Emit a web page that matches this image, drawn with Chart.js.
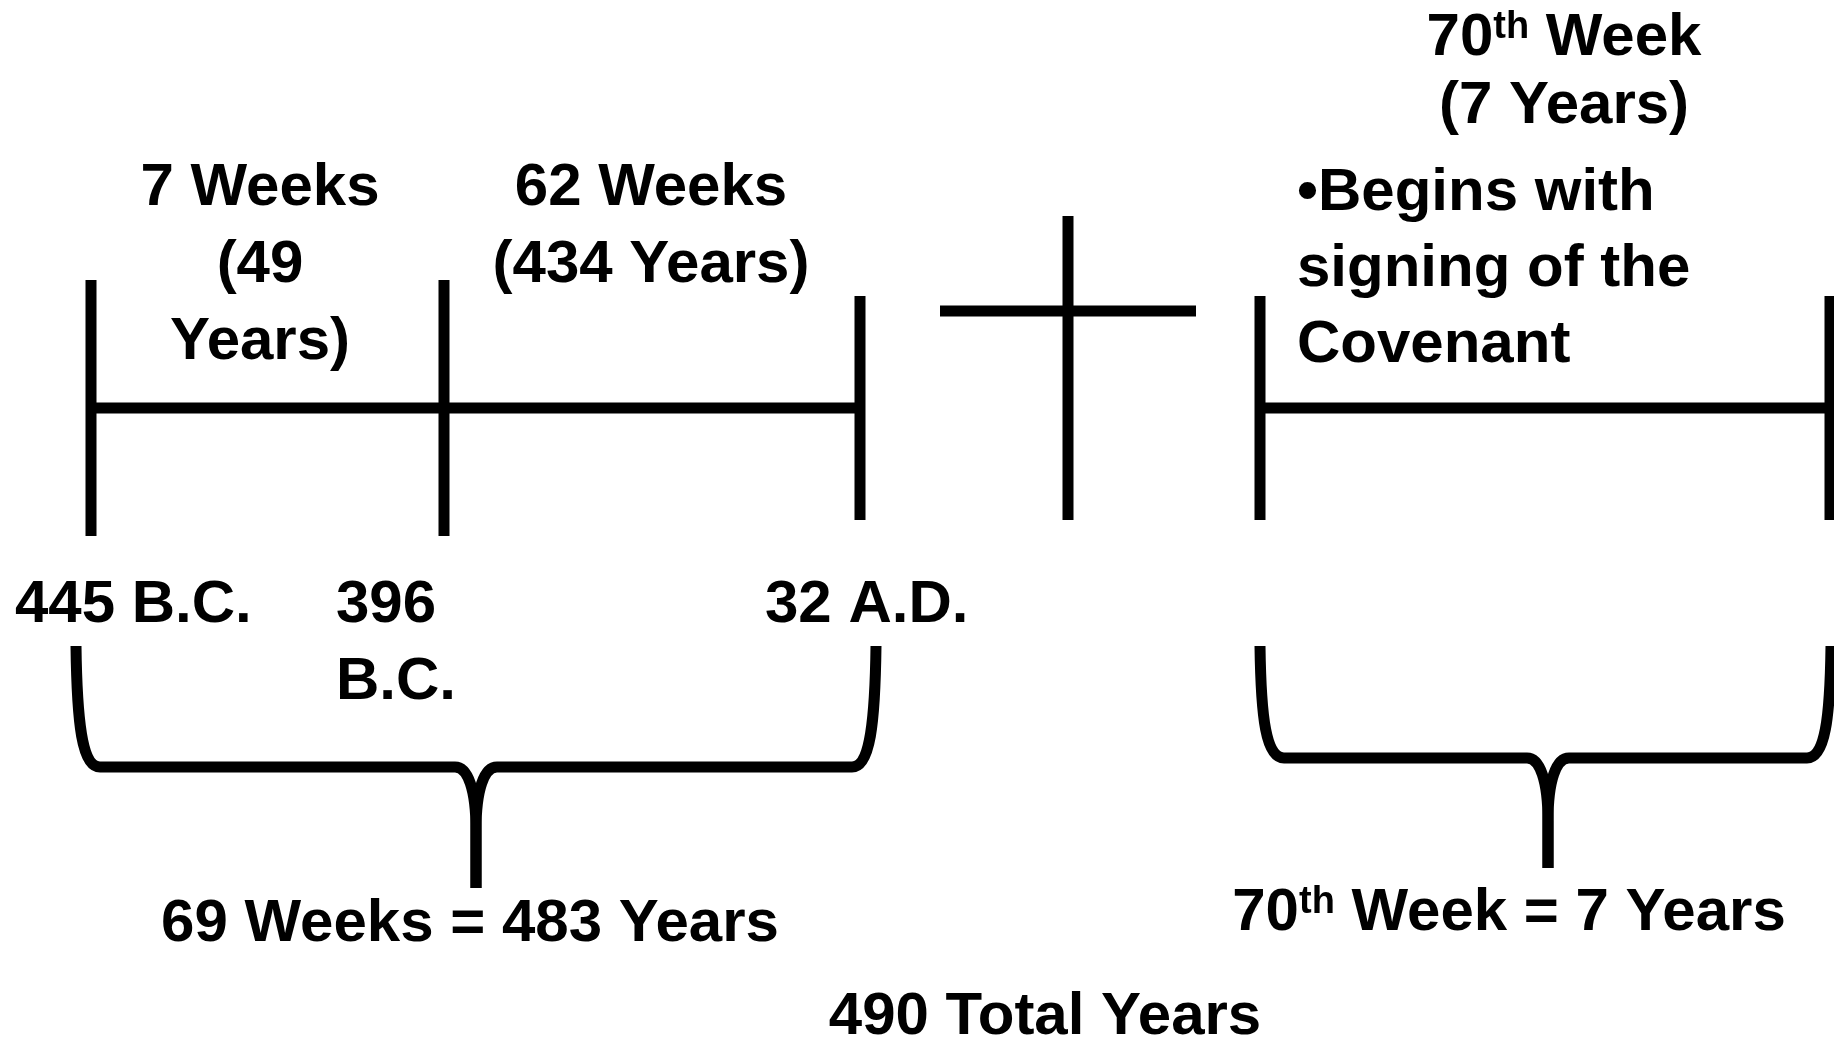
<!DOCTYPE html>
<html>
<head>
<meta charset="utf-8">
<script src="https://cdn.jsdelivr.net/npm/chart.js@4.4.1/dist/chart.umd.min.js"></script>
<style>
  html, body { margin: 0; padding: 0; background: #ffffff; overflow: hidden; }
  #wrap { width: 1834px; height: 1038px; }
</style>
</head>
<body>
<div id="wrap"><canvas id="chart" width="1834" height="1038"></canvas></div>
<script>
// ---------- Diagram content (diagram units: x 0..1834, y 0..1038 measured downward) ----------
// Timeline segments [x1, y1, x2, y2]
const firstTimeline = [
  [91, 280, 91, 536],     // 445 B.C. tick
  [444, 280, 444, 536],   // 396 B.C. tick
  [860, 296, 860, 520],   // 32 A.D. tick
  [91, 408, 860, 408]     // 69 weeks span
];
const crossMark = [
  [1068, 216, 1068, 520],
  [940, 311, 1196, 311]
];
const seventiethTimeline = [
  [1260, 296, 1260, 520],
  [1830, 296, 1830, 520],
  [1260, 408, 1834, 408]
];

// Period labels above the first timeline
const periodLines = [["7 Weeks", "(49", "Years)"], ["62 Weeks", "(434 Years)"]];
const periodX = [260, 651];
const periodY = [205, 205];

// 70th week heading and note
const weekHeading = ["70{th} Week", "(7 Years)"];
const weekHeadingX = 1564, weekHeadingY = 55;
const covenantNote = ["\u2022Begins with", "signing of the", "Covenant"];
const covenantX = 1297, covenantY = 210;

// Date labels under the ticks
const dateLines = [["445 B.C."], ["396", "B.C."], ["32 A.D."]];
const dateX = [15, 336, 765];
const dateY = [622, 622, 622];

// Braces [left, right, top, bar, tipX, tipY]
const braces = [
  [76, 876, 646, 767, 476, 888],
  [1260, 1831, 646, 758, 1548, 868]
];

// Summary labels
const summaryText = ["69 Weeks = 483 Years", "70{th} Week = 7 Years", "490 Total Years"];
const summaryX = [470, 1509, 1045];
const summaryY = [941, 930, 1034];

// ---------- Build datasets ----------
function segDataset(s) {
  return {
    type: 'scatter',
    data: [{x: s[0], y: s[1]}, {x: s[2], y: s[3]}],
    showLine: true,
    borderColor: '#000000',
    backgroundColor: '#000000',
    borderWidth: 11,
    borderCapStyle: 'butt',
    pointRadius: 0,
    pointHoverRadius: 0,
    fill: false,
    clip: false
  };
}
const datasets = [...firstTimeline, ...crossMark, ...seventiethTimeline].map(segDataset);

const FONT = '"Liberation Sans", Arial, Helvetica, sans-serif';
const MAIN_SIZE = 60;
const SUP_SIZE = 38;

function parts(text) {
  const out = [];
  const re = /\{(.*?)\}/g;
  let last = 0, m;
  while ((m = re.exec(text)) !== null) {
    if (m.index > last) out.push({t: text.slice(last, m.index), sup: false});
    out.push({t: m[1], sup: true});
    last = re.lastIndex;
  }
  if (last < text.length) out.push({t: text.slice(last), sup: false});
  return out;
}

function drawRich(ctx, text, px, py, align) {
  const ps = parts(text);
  let w = 0;
  ps.forEach(p => {
    ctx.font = 'bold ' + (p.sup ? SUP_SIZE : MAIN_SIZE) + 'px ' + FONT;
    p.w = ctx.measureText(p.t).width;
    w += p.w;
  });
  let x = align === 'center' ? px - w / 2 : px;
  ps.forEach(p => {
    ctx.font = 'bold ' + (p.sup ? SUP_SIZE : MAIN_SIZE) + 'px ' + FONT;
    ctx.fillText(p.t, x, p.sup ? py - 17 : py);
    x += p.w;
  });
}

const diagramPlugin = {
  id: 'diagram',
  afterDatasetsDraw(chart) {
    const ctx = chart.ctx;
    const xs = chart.scales.x, ys = chart.scales.y;
    const X = v => xs.getPixelForValue(v);
    const Y = v => ys.getPixelForValue(v);
    ctx.save();
    ctx.fillStyle = '#000000';
    ctx.strokeStyle = '#000000';
    ctx.textBaseline = 'alphabetic';
    ctx.textAlign = 'left';

    // Braces
    ctx.lineWidth = 11;
    ctx.lineCap = 'butt';
    ctx.lineJoin = 'round';
    braces.forEach(b => {
      const [L, R, top, bar, tx, ty] = b;
      [[L, 1], [R, -1]].forEach(([edge, dir]) => {
        ctx.beginPath();
        ctx.moveTo(X(edge), Y(top));
        ctx.bezierCurveTo(X(edge + dir * 1), Y(top + (bar - top) * 0.65),
                          X(edge + dir * 6), Y(bar),
                          X(edge + dir * 24), Y(bar));
        ctx.lineTo(X(tx - dir * 21), Y(bar));
        ctx.bezierCurveTo(X(tx - dir * 8), Y(bar),
                          X(tx), Y(bar + 23),
                          X(tx), Y(bar + 63));
        ctx.lineTo(X(tx), Y(ty));
        ctx.stroke();
      });
    });

    // Period labels
    periodLines.forEach((lines, i) => {
      lines.forEach((t, j) => drawRich(ctx, t, X(periodX[i]), Y(periodY[i] + j * 77), 'center'));
    });
    // 70th week heading
    weekHeading.forEach((t, j) => drawRich(ctx, t, X(weekHeadingX), Y(weekHeadingY + j * 68), 'center'));
    // Covenant note
    covenantNote.forEach((t, j) => drawRich(ctx, t, X(covenantX), Y(covenantY + j * 76), 'left'));
    // Dates
    dateLines.forEach((lines, i) => {
      lines.forEach((t, j) => drawRich(ctx, t, X(dateX[i]), Y(dateY[i] + j * 77), 'left'));
    });
    // Summaries
    summaryText.forEach((t, i) => drawRich(ctx, t, X(summaryX[i]), Y(summaryY[i]), 'center'));

    ctx.restore();
  }
};

new Chart(document.getElementById('chart'), {
  type: 'scatter',
  data: { datasets },
  options: {
    responsive: false,
    devicePixelRatio: 1,
    animation: false,
    events: [],
    layout: { padding: 0 },
    plugins: { legend: { display: false }, tooltip: { enabled: false }, title: { display: false } },
    scales: {
      x: { type: 'linear', min: 0, max: 1834, display: false },
      y: { type: 'linear', min: 0, max: 1038, reverse: true, display: false }
    }
  },
  plugins: [diagramPlugin]
});
</script>
</body>
</html>
